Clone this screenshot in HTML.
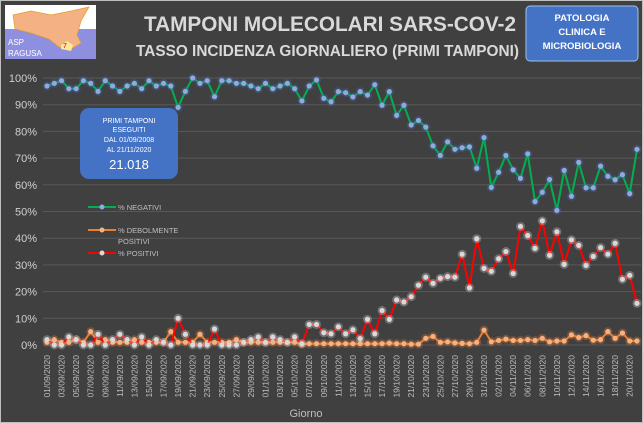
<!DOCTYPE html><html><head><meta charset="utf-8"><style>
body{margin:0;background:#404040;}
#c{position:relative;width:641px;height:421px;border:1px solid #bfbfbf;background:#404040;overflow:hidden;font-family:"Liberation Sans",sans-serif;}
svg text{font-family:"Liberation Sans",sans-serif;}
</style></head><body><div id="c"><svg id="s" width="641" height="421" xmlns="http://www.w3.org/2000/svg"></svg></div>
<script>
const negA=[97,98,99,96,96,99,98,95,99,97,95,97,98,96,99,97,98,97,89,95,100,98,99,93,99,99,98,98,97,96,98,96,97,98,96];
const negB=[91.4,97.0,99.3,92.4,91.1,94.9,94.5,92.9,94.9,93.6,97.5,89.8,94.9,86.0,89.8,82.4,84.1,81.6,74.6,71.0,76.1,73.3,73.9,74.2,66.2,77.7,59.0,64.7,71.0,65.6,62.4,71.6,53.7,57.2,62.0,50.4,65.4,55.7,68.4,58.9,58.9,67.0,63.2,61.9,63.8,56.7,73.3];
const neg=negA.concat(negB);
const weakA=[1,2,1,1,2,1,5,1,2,1,1,1,2,1,1,1,1,5,1,1,1,4,1,1,1,1,2,1,1,1,1,1,1,1,1];
const weakB=[0.3,0.5,0.5,0.5,0.5,0.5,0.5,0.5,0.5,0.5,0.5,0.5,0.7,0.5,0.5,0.3,0.3,2.5,3.2,1,1.2,0.8,0.6,0.5,1,5.6,1.2,1.7,2.2,1.7,1.7,2,1.7,2.5,1.2,1.5,1.5,3.8,2.8,3.5,1.8,2,5,2.5,4.5,1.5,1.5];
const weak=weakA.concat(weakB);
const posB=[0.5,7.7,7.7,4.6,4.2,6.8,4.2,5.7,2.4,9.6,4.2,12.9,9.6,16.9,16.1,18.1,22.4,25.4,23.1,25.0,25.6,25.4,34.0,21.4,39.8,28.7,27.6,32.3,35.0,26.8,44.4,41.0,36.2,46.5,33.6,42.4,30.2,39.4,37.3,29.8,33.2,36.5,34.0,38.1,24.6,26.1,15.6];
const pos=negA.map((v,i)=>Math.max(0,100-v-weakA[i])).concat(posB);
const N=neg.length,x0=46,dx=(636-46)/(N-1),y0=344,k=2.67;
const X=i=>x0+i*dx,Y=v=>y0-v*k;
let h='';
for(let p=0;p<=100;p+=10){const y=Y(p);h+=`<line x1="42" x2="640" y1="${y}" y2="${y}" stroke="#585858" stroke-width="1"/><text x="36" y="${y+4}" fill="#d0d0d0" font-size="11" text-anchor="end">${p}%</text>`;}
function series(vals,col,dot,glow){let pts=vals.map((v,i)=>X(i).toFixed(1)+','+Y(v).toFixed(1)).join(' ');
let s=`<polyline points="${pts}" fill="none" stroke="${col}" stroke-width="2"/>`;
vals.forEach((v,i)=>{s+=`<circle cx="${X(i)}" cy="${Y(v)}" r="4.5" fill="${glow}" opacity="0.3"/><circle cx="${X(i)}" cy="${Y(v)}" r="2.6" fill="${dot}"/>`});return s;}
h+=series(weak,'#ed7d31','#f4b183','#ed7d31');
h+=series(pos,'#ff0000','#d9d9d9','#e0e0e0');
h+=series(neg,'#00b050','#8faadc','#4472c4');
const m=['09','10','11'],dm=[30,31,30];
for(let i=0;i<N;i+=2){let d=i+1,mi=0;while(d>dm[mi]){d-=dm[mi];mi++;}
const lab=String(d).padStart(2,'0')+'/'+m[mi]+'/2020';
h+=`<text transform="translate(${X(i)+3},354) rotate(-90)" fill="#bfbfbf" font-size="8.5" text-anchor="end">${lab}</text>`;}
h+=`<text x="305" y="416" fill="#bfbfbf" font-size="11" text-anchor="middle">Giorno</text>`;
h+=`<rect x="4" y="4" width="91" height="54" fill="#fff"/><rect x="4" y="28" width="91" height="30" fill="#8f8fe0"/><path d="M12 14 L30 10 L50 14 L70 10 L88 6 L80 20 L76 34 L80 42 L70 48 L58 46 L48 38 L30 32 L14 28 Z" fill="#f4b183" stroke="#e0a020" stroke-width="0.7"/><path d="M60 44 L66 40 L72 44 L70 50 L60 48Z" fill="#ffe699"/><text x="62" y="47" font-size="7" fill="#c00000">7</text><text x="7" y="44" font-size="8" fill="#fff">ASP</text><text x="7" y="55" font-size="8" fill="#fff">RAGUSA</text>`;
h+=`<text x="143" y="30" fill="#d9d9d9" font-size="21" font-weight="bold" textLength="372" lengthAdjust="spacingAndGlyphs">TAMPONI MOLECOLARI SARS-COV-2</text>`;
h+=`<text x="135" y="55" fill="#d9d9d9" font-size="16" font-weight="bold" textLength="383" lengthAdjust="spacingAndGlyphs">TASSO INCIDENZA GIORNALIERO (PRIMI TAMPONI)</text>`;
h+=`<rect x="525" y="5" width="112" height="55" rx="4" fill="#4472c4" stroke="#9dc3e6" stroke-width="1"/><text fill="#fff" font-size="9.5" font-weight="bold" text-anchor="middle"><tspan x="581" y="20">PATOLOGIA</tspan><tspan x="581" y="34">CLINICA E</tspan><tspan x="581" y="48">MICROBIOLOGIA</tspan></text>`;
h+=`<rect x="79" y="107" width="98" height="71" rx="9" fill="#4472c4"/><text fill="#fff" font-size="7" text-anchor="middle"><tspan x="128" y="122">PRIMI TAMPONI</tspan><tspan x="128" y="131">ESEGUITI</tspan><tspan x="128" y="141">DAL 01/09/2008</tspan><tspan x="128" y="151">AL 21/11/2020</tspan></text><text x="128" y="168" fill="#fff" font-size="13" text-anchor="middle">21.018</text>`;
const lg=[[206,'#00b050','#8faadc','% NEGATIVI'],[229,'#ed7d31','#f4b183','% DEBOLMENTE'],[252,'#ff0000','#d9d9d9','% POSITIVI']];
lg.forEach(([y,c,d,t])=>{h+=`<line x1="87" x2="115" y1="${y}" y2="${y}" stroke="${c}" stroke-width="2"/><circle cx="101" cy="${y}" r="2.5" fill="${d}"/><text x="117" y="${y+3}" fill="#bfbfbf" font-size="7.5">${t}</text>`});
h+=`<text x="117" y="243" fill="#bfbfbf" font-size="7.5">POSITIVI</text>`;
document.getElementById('s').innerHTML=h;
</script></body></html>
